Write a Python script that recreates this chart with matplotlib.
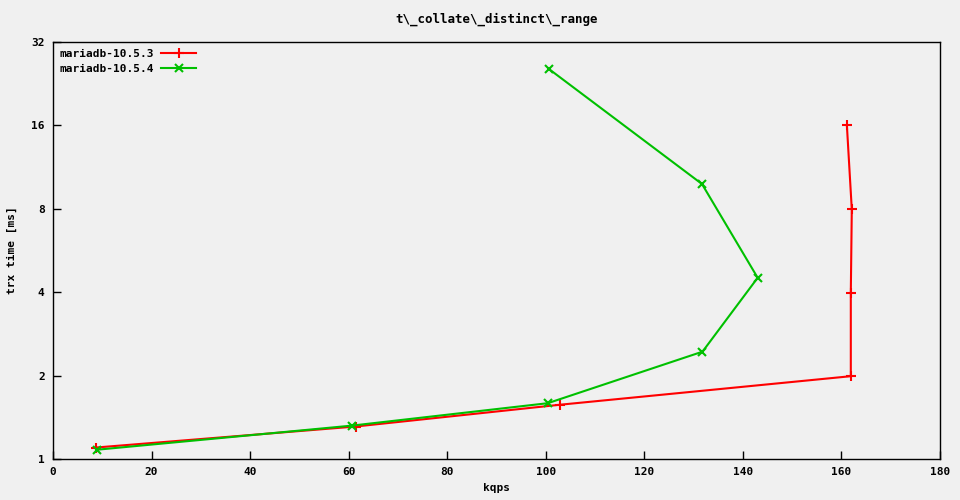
import matplotlib
matplotlib.use("Agg")
import matplotlib.pyplot as plt
from matplotlib.ticker import FixedLocator, NullLocator

title = r"t\_collate\_distinct\_range"
series_names = ["mariadb-10.5.3", "mariadb-10.5.4"]
x_5_3 = [8.7, 61.4, 102.9, 161.9, 161.9, 162.1, 161.1]
y_5_3 = [1.10, 1.31, 1.57, 1.99, 3.98, 7.96, 16.05]
x_5_4 = [8.9, 60.7, 100.4, 131.8, 143.0, 131.7, 100.6]
y_5_4 = [1.08, 1.32, 1.59, 2.44, 4.51, 9.83, 25.6]
xticks = [0, 20, 40, 60, 80, 100, 120, 140, 160, 180]
yticks = [1, 2, 4, 8, 16, 32]

plt.rcParams['font.family'] = ['DejaVu Sans Mono']
plt.rcParams['font.weight'] = 'bold'
plt.rcParams['font.size'] = 8

bg = "#f0f0f0"
fig = plt.figure(figsize=(9.6, 5.0), dpi=100, facecolor=bg)
ax = fig.add_axes([53/960, 41/500, 887/960, 417/500], facecolor=bg)

ax.plot(x_5_3, y_5_3, color="#ff0000", lw=1.5, marker="+", ms=7, mew=1.5, label=series_names[0])
ax.plot(x_5_4, y_5_4, color="#00c000", lw=1.5, marker="x", ms=6, mew=1.5, label=series_names[1])

ax.set_yscale("log", base=2)
ax.set_xlim(0, 180)
ax.set_ylim(1, 32)
ax.xaxis.set_major_locator(FixedLocator(xticks))
ax.yaxis.set_major_locator(FixedLocator(yticks))
ax.yaxis.set_minor_locator(NullLocator())
ax.set_yticklabels([str(v) for v in yticks])
ax.set_xticklabels([str(v) for v in xticks])
ax.tick_params(direction="in", length=6, width=1, pad=6, labelsize=8)
for s in ax.spines.values():
    s.set_linewidth(1)

ax.set_title(title, fontsize=9, fontweight="bold", pad=14)
ax.set_xlabel("kqps", fontsize=8, fontweight="bold", labelpad=4)
ax.set_ylabel("trx time [ms]", fontsize=8, fontweight="bold", labelpad=10)

leg = ax.legend(loc="upper left", frameon=False, markerfirst=False, handlelength=3.2,
                borderaxespad=0.2, labelspacing=0.45, handletextpad=0.6, fontsize=8)

fig.savefig("out.png", dpi=100, facecolor=bg)
